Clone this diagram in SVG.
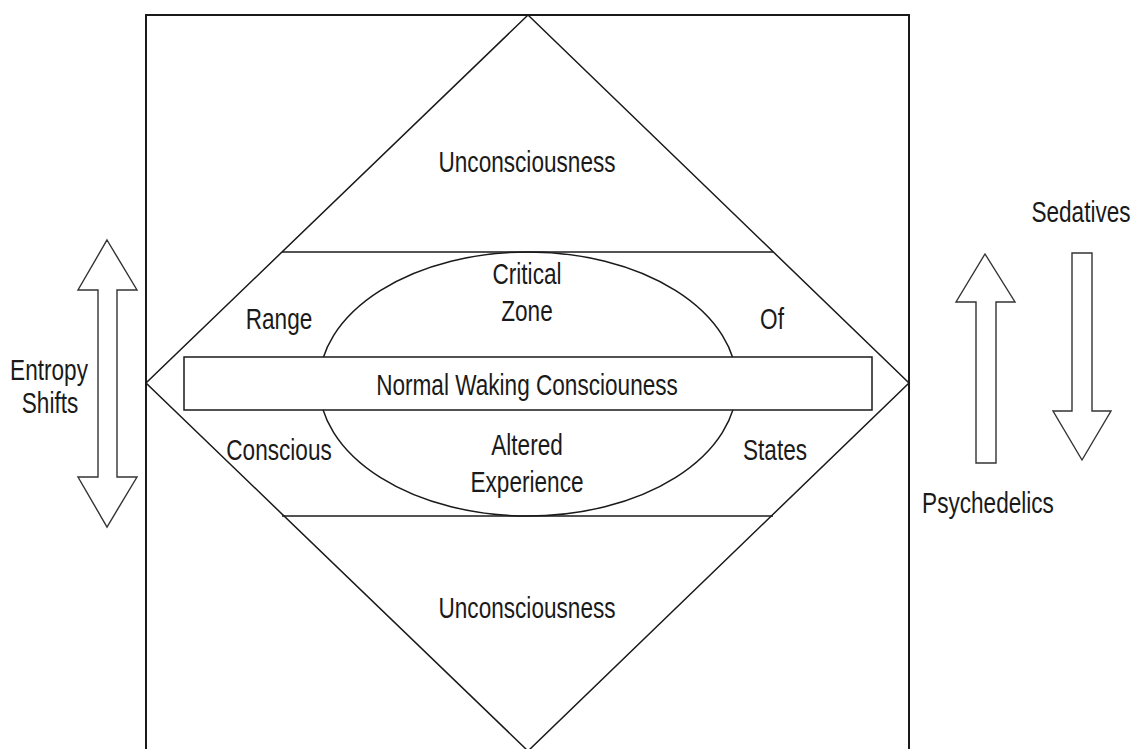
<svg xmlns="http://www.w3.org/2000/svg" width="1134" height="749" viewBox="0 0 1134 749">
<style>
.ln{fill:none;stroke:#1a1a1a;stroke-width:1.5}
.fr{fill:#fff;stroke:#1a1a1a;stroke-width:1.5}
.ar{fill:#fff;stroke:#333;stroke-width:1.4;stroke-linejoin:miter}
.t{font-family:"Liberation Sans",Arial,Helvetica,sans-serif;font-size:22.6px;fill:#1a1a1a;text-anchor:middle}
</style>
<rect width="1134" height="749" fill="#fff"/>
<g id="frame">
<rect class="ln" x="146" y="15" width="763" height="770" style="stroke-width:2"/>
</g>
<g id="diamond">
<polygon class="ln" points="528,15 909,383 528,751 146,383"/>
</g>
<g id="connectors">
<line class="ln" x1="282" y1="252" x2="773" y2="252"/>
<line class="ln" x1="282" y1="516" x2="773" y2="516"/>
</g>
<g id="unconscious-top">
<text class="t" transform="translate(527,172) scale(1,1.32)">Unconsciousness</text>
</g>
<g id="unconscious-bottom">
<text class="t" transform="translate(527,618) scale(1,1.32)">Unconsciousness</text>
</g>
<g id="range-labels">
<text class="t" transform="translate(279,329) scale(1,1.32)">Range</text>
<text class="t" transform="translate(772,329) scale(1,1.32)">Of</text>
<text class="t" transform="translate(279,460) scale(1,1.32)">Conscious</text>
<text class="t" transform="translate(775,460) scale(1,1.32)">States</text>
</g>
<g id="ellipse">
<ellipse class="ln" cx="528" cy="384" rx="209" ry="132"/>
<text class="t" transform="translate(527,284) scale(1,1.32)">Critical</text>
<text class="t" transform="translate(527,321) scale(1,1.32)">Zone</text>
<text class="t" transform="translate(527,455) scale(1,1.32)">Altered</text>
<text class="t" transform="translate(527,492) scale(1,1.32)">Experience</text>
</g>
<g id="normal-waking">
<rect class="fr" x="184" y="357" width="688" height="53"/>
<text class="t" transform="translate(527,395) scale(1,1.32)">Normal Waking Consciouness</text>
</g>
<g id="entropy-arrow">
<polygon class="ar" points="107,240 137,290 117,290 117,477 137,477 107,527 78,477 98,477 98,290 78,290"/>
<text class="t" transform="translate(49,380) scale(1,1.32)">Entropy</text>
<text class="t" transform="translate(50,413) scale(1,1.32)">Shifts</text>
</g>
<g id="psychedelics-arrow">
<polygon class="ar" points="985,254 1015,302 996,302 996,463 976,463 976,302 956,302"/>
<text class="t" transform="translate(988,513) scale(1,1.32)">Psychedelics</text>
</g>
<g id="sedatives-arrow">
<polygon class="ar" points="1072,253 1092,253 1092,411 1111,411 1082,460 1053,411 1072,411"/>
<text class="t" transform="translate(1081,222) scale(1,1.32)">Sedatives</text>
</g>
</svg>
